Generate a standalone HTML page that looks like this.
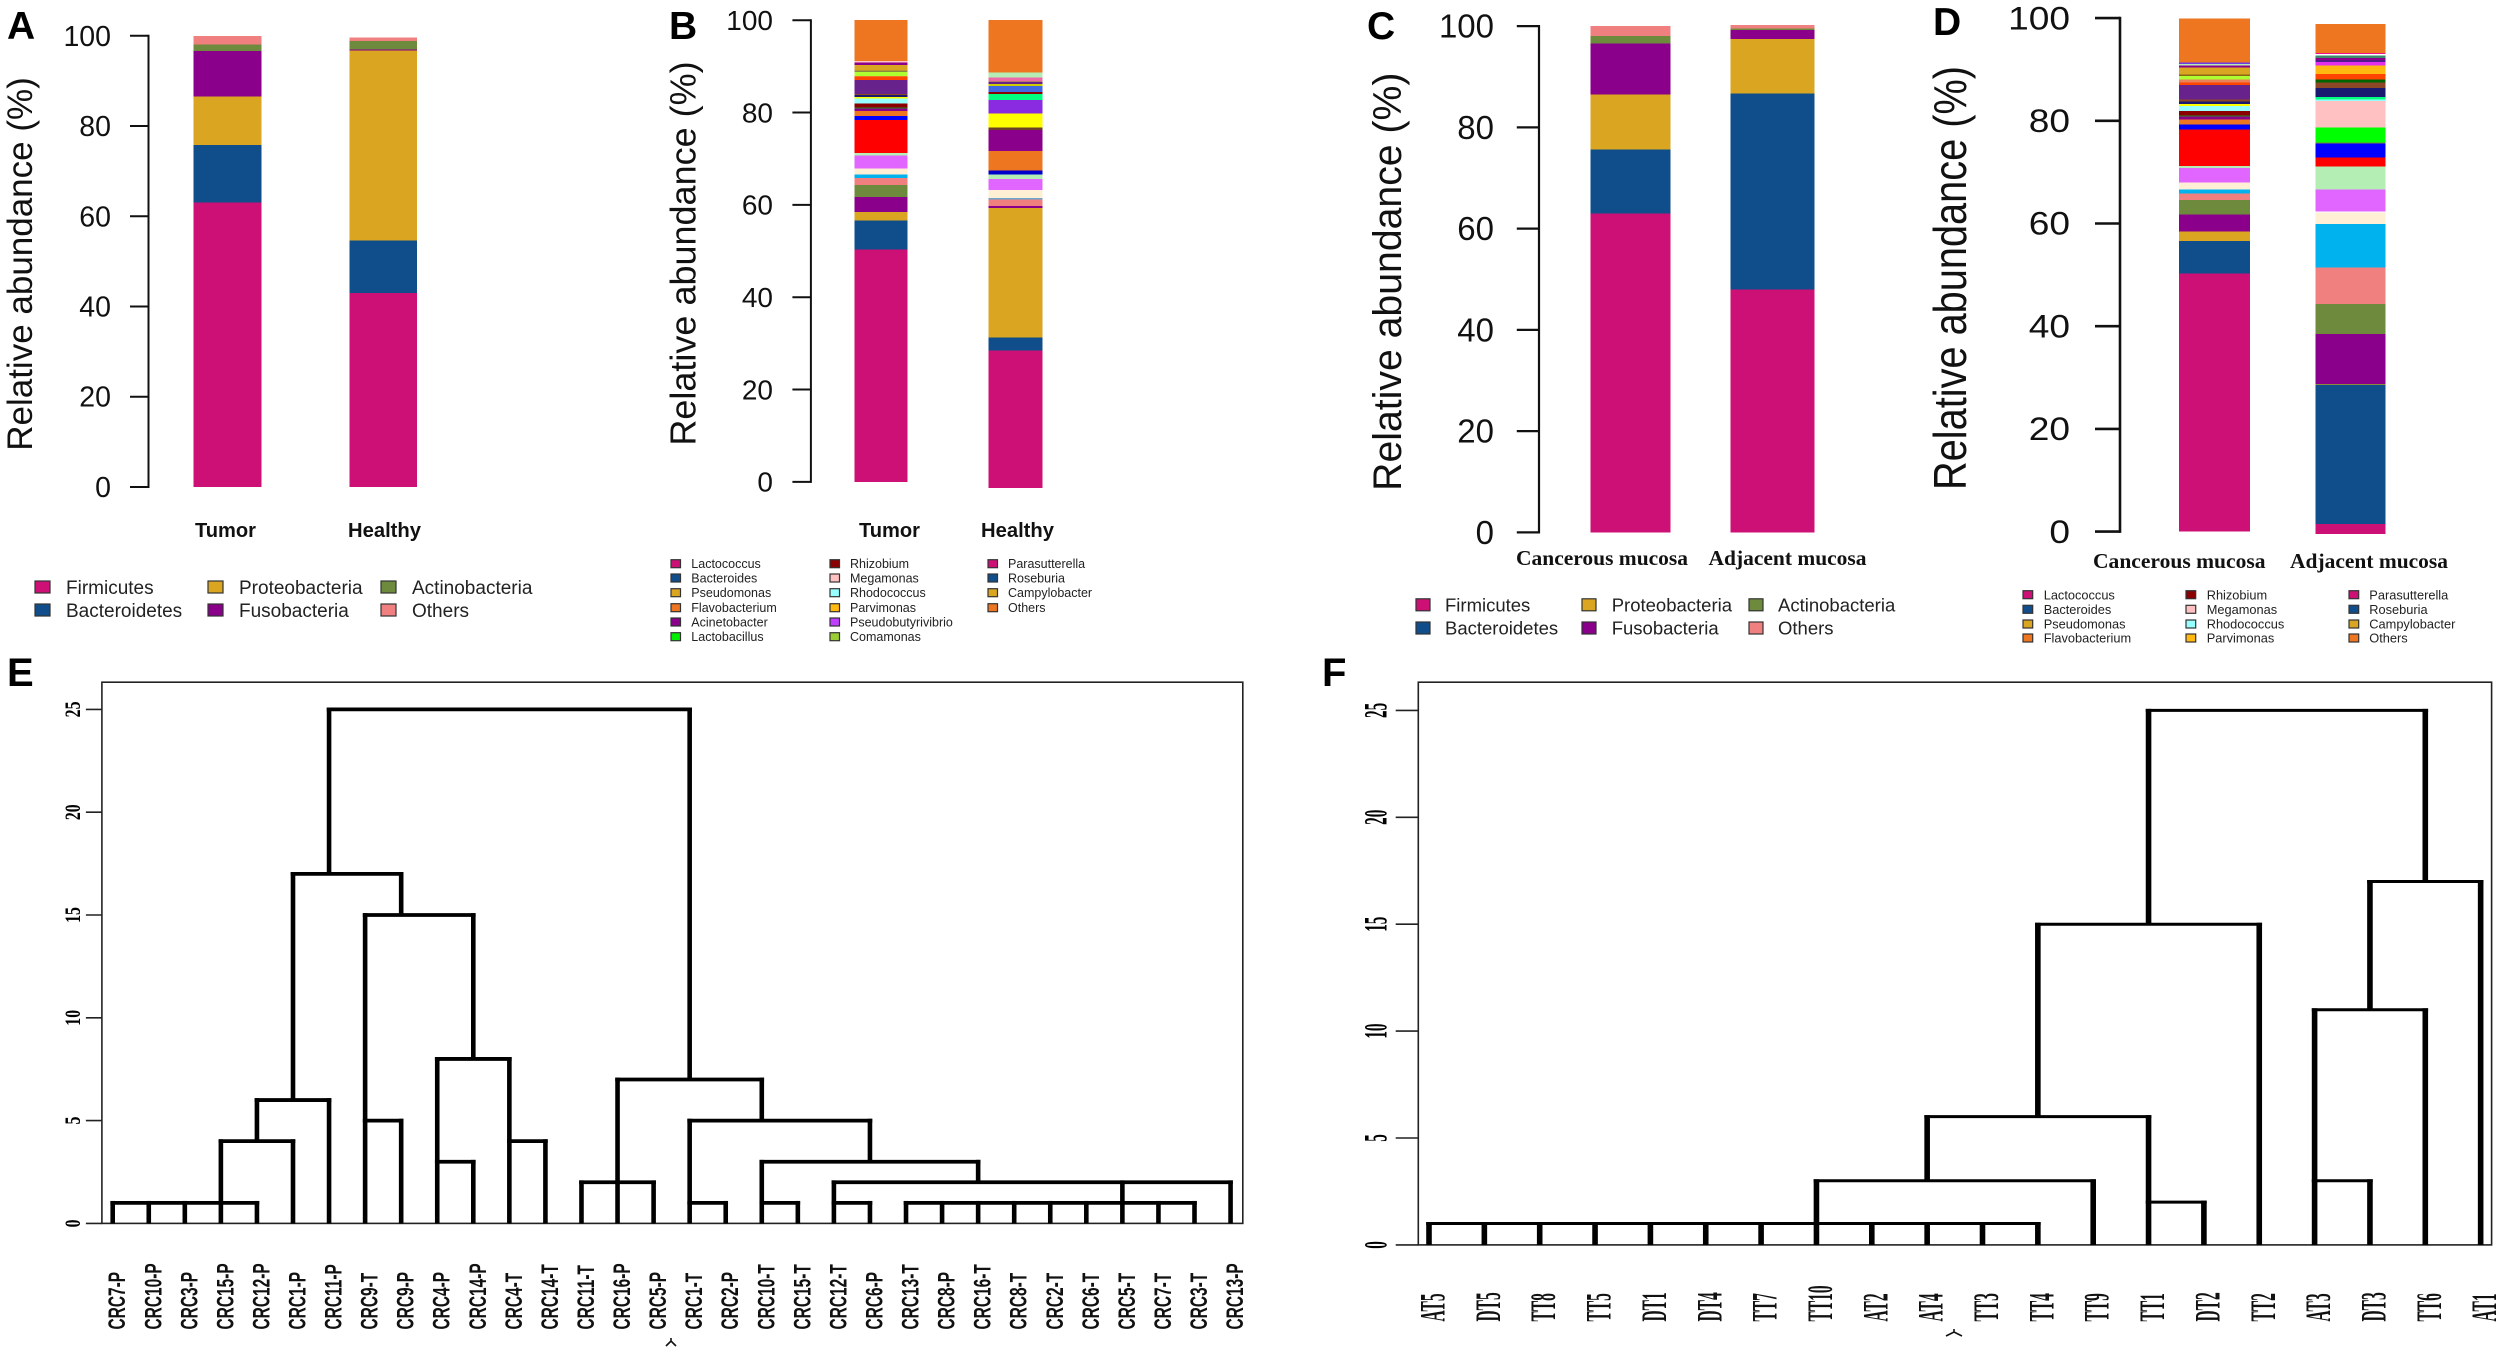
<!DOCTYPE html>
<html lang="en">
<head>
<meta charset="utf-8">
<title>Relative abundance and clustering panels</title>
<style>
html,body{margin:0;padding:0;background:#fff;}
svg{display:block;}
</style>
</head>
<body>
<svg id="figure" xmlns="http://www.w3.org/2000/svg" width="2500" height="1352" viewBox="0 0 2500 1352">
  <rect x="0" y="0" width="2500" height="1352" fill="#ffffff"/>
  <g id="panel-a"></g>
  <g id="panel-b"></g>
  <g id="panel-c"></g>
  <g id="panel-d"></g>
  <g id="panel-e"></g>
  <g id="panel-f"></g>
  <text x="7" y="39" font-family="'Liberation Sans',sans-serif" font-weight="700" font-size="39">A</text>
  <text x="669" y="39" font-family="'Liberation Sans',sans-serif" font-weight="700" font-size="39">B</text>
  <text x="1367" y="39" font-family="'Liberation Sans',sans-serif" font-weight="700" font-size="39">C</text>
  <text x="1933" y="35" font-family="'Liberation Sans',sans-serif" font-weight="700" font-size="39">D</text>
  <text x="7" y="686" font-family="'Liberation Sans',sans-serif" font-weight="700" font-size="40">E</text>
  <text x="1322" y="686" font-family="'Liberation Sans',sans-serif" font-weight="700" font-size="40">F</text>
  <path d="M666 1346 L671 1341 L676 1346 M671 1341 V1338" fill="none" stroke="#111" stroke-width="1.6"/>
  <path d="M1946 1336 L1954 1332 L1962 1336 M1954 1332 V1329" fill="none" stroke="#111" stroke-width="1.6"/>
</svg>
<script>
// ---------- shared tick labels ----------
const abundanceTicks = [0, 20, 40, 60, 80, 100];
const dendroTicks = [0, 5, 10, 15, 20, 25];

// ---------- panel A ----------
const panelACategories = ['Tumor', 'Healthy'];
const panelAFirmicutes = [63.1, 43.0];
const panelABacteroidetes = [12.7, 11.6];
const panelAProteobacteria = [10.8, 42.1];
const panelAFusobacteria = [10.0, 0.3];
const panelAActinobacteria = [1.5, 1.9];
const panelAOthers = [1.9, 0.7];
const panelABase = [0, 0];

// ---------- panel C ----------
const panelCCategories = ['Cancerous mucosa', 'Adjacent mucosa'];
const panelCFirmicutes = [63.0, 48.0];
const panelCBacteroidetes = [12.6, 38.7];
const panelCProteobacteria = [10.9, 10.8];
const panelCFusobacteria = [10.1, 1.7];
const panelCActinobacteria = [1.4, 0.3];
const panelCOthers = [2.0, 0.7];
const panelCBase = [0, 0];

const phylumLegend = ['Firmicutes', 'Bacteroidetes', 'Proteobacteria', 'Fusobacteria', 'Actinobacteria', 'Others'];
const phylumColors = ['#CD1076', '#104E8B', '#DAA520', '#8B008B', '#6E8B3D', '#F08080'];

// ---------- panel B ----------
const panelBCategories = ['Tumor', 'Healthy'];
const panelBBase = [0, -1.35];
const panelBTumor = [50.3, 6.35, 1.8, 3.3, 2.6, 1.5, 0.7, 1.3, 2.8, 0.6, 7.1, 0.95, 1.0, 0.6, 0.2, 0.9, 1.0, 0.4, 0.35, 0.3, 3.0, 0.6, 0.3, 0.8, 0.4, 1.2, 0.45, 0.4, 8.8];
const panelBTumorColors = ['#CD1076', '#104E8B', '#DAA520', '#8B008B', '#6E8B3D', '#F08080', '#00B2EE', '#FFEFD5', '#E066FF', '#B4EEB4', '#FF0000', '#0000FF', '#EE7621', '#8B008B', '#228B22', '#8B0000', '#97FFFF', '#FFFF00', '#191970', '#8B4726', '#68228B', '#FF4500', '#EE7621', '#ADFF2F', '#8B8B3D', '#DAA520', '#8B008B', '#FFC1C1', '#EE7621'];
const panelBHealthy = [29.8, 2.8, 28.05, 0.5, 1.37, 0.3, 1.73, 2.38, 1.0, 0.87, 4.26, 4.55, 0.5, 3.03, 2.89, 1.37, 0.43, 1.23, 0.5, 0.36, 0.2, 0.8, 1.15, 11.3];
const panelBHealthyColors = ['#CD1076', '#104E8B', '#DAA520', '#8B008B', '#F08080', '#6CA6CD', '#FFEFD5', '#E066FF', '#B4EEB4', '#0000CD', '#EE7621', '#8B008B', '#6B4226', '#FFFF00', '#8A2BE2', '#00FF7F', '#8B0000', '#4169E1', '#CDCD00', '#68228B', '#6E8B3D', '#EE6AA7', '#B4EEB4', '#EE7621'];
const panelBLegend = ['Lactococcus', 'Bacteroides', 'Pseudomonas', 'Flavobacterium', 'Acinetobacter', 'Lactobacillus', 'Rhizobium', 'Megamonas', 'Rhodococcus', 'Parvimonas', 'Pseudobutyrivibrio', 'Comamonas', 'Parasutterella', 'Roseburia', 'Campylobacter', 'Others'];
const panelBLegendColors = ['#CD1076', '#104E8B', '#DAA520', '#EE7621', '#8B008B', '#00EE00', '#8B0000', '#FFC1C1', '#97FFFF', '#FFB90F', '#BF3EFF', '#9ACD32', '#CD1076', '#104E8B', '#DAA520', '#EE7621'];

// ---------- panel D ----------
const panelDCategories = ['Cancerous mucosa', 'Adjacent mucosa'];
const panelDBase = [0, -0.47];
const panelDTumor = [50.3, 6.3, 1.88, 3.31, 2.79, 1.23, 0.78, 1.36, 2.86, 0.39, 7.08, 0.97, 0.97, 0.58, 0.19, 0.91, 0.97, 0.39, 0.45, 0.39, 2.86, 0.52, 0.52, 0.71, 0.32, 1.36, 0.39, 0.32, 0.26, 8.57];
const panelDTumorColors = ['#CD1076', '#104E8B', '#DAA520', '#8B008B', '#6E8B3D', '#F08080', '#00B2EE', '#FFEFD5', '#E066FF', '#B4EEB4', '#FF0000', '#0000FF', '#EE7621', '#8B008B', '#228B22', '#8B0000', '#97FFFF', '#FFFF00', '#191970', '#8B4726', '#68228B', '#FF4500', '#E9815B', '#ADFF2F', '#8B6914', '#DAA520', '#8B008B', '#B4EEB4', '#6A3DE8', '#EE7621'];
const panelDAdjacent = [1.95, 27.07, 0.23, 9.66, 5.9, 7.13, 8.44, 2.2, 0.26, 4.28, 4.41, 1.75, 2.73, 0.2, 2.92, 5.19, 0.32, 0.45, 1.75, 1.04, 0.65, 1.1, 1.62, 0.65, 0.39, 0.45, 0.45, 0.26, 0.26, 5.58];
const panelDAdjacentColors = ['#CD1076', '#104E8B', '#8B8B3D', '#8B008B', '#6E8B3D', '#F08080', '#00B2EE', '#FFEFD5', '#FFFFFF', '#E066FF', '#B4EEB4', '#FF0000', '#0000FF', '#6E8B3D', '#00FF00', '#FFC1C1', '#97FFFF', '#00FF7F', '#191970', '#8B4726', '#006400', '#FF4500', '#FFB90F', '#E02FEE', '#551A8B', '#8B008B', '#3D8B6E', '#FFFFFF', '#EE1289', '#EE7621'];
const panelDLegend = ['Lactococcus', 'Bacteroides', 'Pseudomonas', 'Flavobacterium', 'Rhizobium', 'Megamonas', 'Rhodococcus', 'Parvimonas', 'Parasutterella', 'Roseburia', 'Campylobacter', 'Others'];
const panelDLegendColors = ['#CD1076', '#104E8B', '#DAA520', '#EE7621', '#8B0000', '#FFC1C1', '#97FFFF', '#FFB90F', '#CD1076', '#104E8B', '#DAA520', '#EE7621'];

// ---------- panel E dendrogram ----------
const panelELeaves = ['CRC7-P', 'CRC10-P', 'CRC3-P', 'CRC15-P', 'CRC12-P', 'CRC1-P', 'CRC11-P', 'CRC9-T', 'CRC9-P', 'CRC4-P', 'CRC14-P', 'CRC4-T', 'CRC14-T', 'CRC11-T', 'CRC16-P', 'CRC5-P', 'CRC1-T', 'CRC2-P', 'CRC10-T', 'CRC15-T', 'CRC12-T', 'CRC6-P', 'CRC13-T', 'CRC8-P', 'CRC16-T', 'CRC8-T', 'CRC2-T', 'CRC6-T', 'CRC5-T', 'CRC7-T', 'CRC3-T', 'CRC13-P'];
const panelEMergeHeight = [1, 4, 6, 17, 15, 5, 8, 3, 4, 25, 2, 7, 5, 1, 3, 1, 2, 1, 1];
const panelEMergeFrom = [0, 3, 4, 5, 7, 7, 9, 9, 11, 6, 13, 14, 16, 16, 18, 18, 20, 20, 22];
const panelEMergeTo = [4, 5, 6, 8, 10, 8, 11, 10, 12, 16, 15, 18, 21, 17, 24, 19, 31, 21, 30];
const panelEStemLeaf = [0, 1, 2, 3, 4, 4, 5, 5, 6, 6, 7, 8, 8, 9, 10, 10, 11, 12, 13, 14, 15, 16, 16, 17, 18, 18, 19, 20, 21, 21, 22, 23, 24, 24, 25, 26, 27, 28, 29, 30, 31];
const panelEStemLow = [0, 0, 0, 0, 0, 4, 0, 6, 0, 17, 0, 0, 15, 0, 0, 8, 0, 0, 0, 0, 0, 0, 7, 0, 0, 5, 0, 0, 0, 3, 0, 0, 0, 2, 0, 0, 0, 0, 0, 0, 0];
const panelEStemHigh = [1, 1, 1, 4, 1, 6, 4, 17, 6, 25, 15, 5, 17, 8, 3, 15, 8, 4, 2, 7, 2, 5, 25, 1, 3, 7, 1, 2, 1, 5, 1, 1, 1, 3, 1, 1, 1, 2, 1, 1, 2];

// ---------- panel F dendrogram ----------
const panelFLeaves = ['AT5', 'DT5', 'TT8', 'TT5', 'DT1', 'DT4', 'TT7', 'TT10', 'AT2', 'AT4', 'TT3', 'TT4', 'TT9', 'TT1', 'DT2', 'TT2', 'AT3', 'DT3', 'TT6', 'AT1'];
const panelFMergeHeight = [1, 3, 6, 2, 15, 25, 17, 11, 3];
const panelFMergeFrom = [0, 7, 9, 13, 11, 13, 17, 16, 16];
const panelFMergeTo = [11, 12, 13, 14, 15, 18, 19, 18, 17];
const panelFStemLeaf = [0, 1, 2, 3, 4, 5, 6, 7, 8, 9, 9, 10, 11, 11, 12, 13, 13, 14, 15, 16, 17, 17, 18, 18, 19];
const panelFStemLow = [0, 0, 0, 0, 0, 0, 0, 0, 0, 0, 3, 0, 0, 6, 0, 0, 15, 0, 0, 0, 0, 11, 0, 17, 0];
const panelFStemHigh = [1, 1, 1, 1, 1, 1, 1, 3, 1, 1, 6, 1, 1, 15, 3, 6, 25, 2, 15, 11, 3, 17, 11, 25, 17];

const NS = 'http://www.w3.org/2000/svg';
const SANS = "'Liberation Sans',sans-serif";
const SERIF = "'Liberation Serif',serif";

function make(tag, parent, attrs) {
  const el = document.createElementNS(NS, tag);
  for (const k in attrs) el.setAttribute(k, attrs[k]);
  parent.appendChild(el);
  return el;
}

function makeText(parent, str, x, y, o) {
  const t = make('text', parent, {
    transform: 'translate(' + x + ' ' + y + ') rotate(' + (o.rotate || 0) + ') scale(' + (o.sx || 1) + ' ' + (o.sy || 1) + ')',
    'font-family': o.family || SANS,
    'font-size': o.size,
    'font-weight': o.weight || 400,
    'text-anchor': o.anchor || 'start',
    fill: o.fill || '#000'
  });
  if (o.length) {
    t.setAttribute('textLength', o.length);
    t.setAttribute('lengthAdjust', 'spacingAndGlyphs');
  }
  t.textContent = str;
  return t;
}

function drawStackedPanel(group, L, categories, stacks, stackColors, bases, legendLabels, legendColors) {
  const yOf = v => L.y0 - v * (L.y0 - L.y100) / 100;
  const xOf = i => L.barLeft[i];

  // bars
  categories.forEach((cat, i) => {
    let running = bases[i];
    stacks[i].forEach((value, j) => {
      const top = yOf(running + value);
      const bottom = yOf(running);
      const seg = make('rect', group, {
        x: xOf(i), y: top, width: L.barWidth[i], height: bottom - top,
        fill: stackColors[i][j], 'shape-rendering': 'crispEdges'
      });
      
      
      running += value;
    });
    const label = makeText(group, cat, L.catX[i], L.catY, {
      family: L.catFamily, size: L.catSize, weight: 700, anchor: L.catAnchor, length: L.catLength[i], fill: '#111'
    });
    
    
  });

  // axis
  const axis = make('line', group, {
    x1: L.axisX, x2: L.axisX, y1: yOf(0) + L.axisW / 2, y2: yOf(100) - L.axisW / 2,
    stroke: '#111', 'stroke-width': L.axisW
  });
  
  

  abundanceTicks.forEach(t => {
    const tick = make('line', group, {
      x1: L.tickLeft, x2: L.axisX, y1: yOf(t), y2: yOf(t),
      stroke: '#111', 'stroke-width': L.axisW
    });
    
    
    const lab = makeText(group, String(t), L.tickLabelX, yOf(t) + L.tickSize * 0.35, {
      size: L.tickSize, anchor: 'end', sx: L.tickSx || 1, fill: '#111'
    });
    
    
  });

  const yTitle = makeText(group, 'Relative abundance (%)', L.titleX, L.titleY, {
    size: L.titleSize, anchor: 'middle', rotate: -90, sx: L.titleSx || 1, fill: '#111'
  });
  
  

  // legend
  legendLabels.forEach((name, i) => {
    const col = Math.floor(i / L.legendRows.length);
    const rowY = L.legendRows[i % L.legendRows.length];
    const swatch = make('rect', group, {
      x: L.legendSwatchX[col], y: rowY - L.swatchH / 2, width: L.swatchW, height: L.swatchH,
      fill: legendColors[i], stroke: '#333', 'stroke-width': 1.2
    });
    
    
    const txt = makeText(group, name, L.legendTextX[col], rowY + L.legendSize * 0.36, {
      size: L.legendSize, fill: '#222'
    });
    
    
  });
}

function drawDendrogram(group, L, leaves, mergeHeight, mergeFrom, mergeTo, stemLeaf, stemLow, stemHigh) {
  const xOf = i => L.leaf0 + i * L.leafStep;
  const yOf = h => L.y0 - h * L.unit;

  const frame = make('rect', group, {
    x: L.left, y: L.top, width: L.right - L.left, height: L.y0 - L.top,
    fill: 'none', stroke: '#222', 'stroke-width': L.frameW
  });
  
  

  dendroTicks.forEach(t => {
    const tick = make('line', group, {
      x1: L.tickLeft, x2: L.left, y1: yOf(t), y2: yOf(t), stroke: '#222', 'stroke-width': 1.6
    });
    
    
    const lab = makeText(group, String(t), L.tickLabelX, yOf(t), {
      family: SERIF, weight: 700, size: L.tickSize, anchor: 'middle', rotate: -90, sx: L.tickSx
    });
    
    
  });

  mergeHeight.forEach((h, i) => {
    const link = make('line', group, {
      x1: xOf(mergeFrom[i]) - L.stemW / 2, x2: xOf(mergeTo[i]) + L.stemW / 2,
      y1: yOf(h), y2: yOf(h), stroke: '#000', 'stroke-width': L.linkW
    });
    
    
  });

  stemLeaf.forEach((leaf, i) => {
    const stem = make('line', group, {
      x1: xOf(leaf), x2: xOf(leaf), y1: yOf(stemLow[i]), y2: yOf(stemHigh[i]) - L.linkW / 2,
      stroke: '#000', 'stroke-width': L.stemW
    });
    
    
  });

  leaves.forEach((name, i) => {
    const lab = makeText(group, name, xOf(i) + L.leafLabelDx, L.leafLabelY, {
      family: L.leafFamily, weight: 700, size: L.leafSize, rotate: -90, sx: L.leafSx, fill: '#111'
    });
    
    
  });
}

function byCategory(seriesList, n) {
  const out = [];
  for (let i = 0; i < n; i++) out.push(seriesList.map(s => s[i]));
  return out;
}

const phylumSeriesA = [panelAFirmicutes, panelABacteroidetes, panelAProteobacteria, panelAFusobacteria, panelAActinobacteria, panelAOthers];
const phylumSeriesC = [panelCFirmicutes, panelCBacteroidetes, panelCProteobacteria, panelCFusobacteria, panelCActinobacteria, panelCOthers];

drawStackedPanel(document.getElementById('panel-a'), {
  y0: 487, y100: 35.8, axisX: 148.5, tickLeft: 130, axisW: 2,
  barLeft: [193.6, 349.5], barWidth: [68, 67.5],
  catX: [195, 348], catY: 537, catSize: 20, catFamily: SANS, catAnchor: 'start', catLength: [61, 73],
  tickLabelX: 111, tickSize: 28.5,
  titleX: 32, titleY: 264, titleSize: 35,
  legendRows: [587, 610], legendSwatchX: [35, 208, 381], legendTextX: [66, 239, 412],
  swatchW: 15, swatchH: 12, legendSize: 19
}, panelACategories, byCategory(phylumSeriesA, 2), [phylumColors, phylumColors], panelABase, phylumLegend, phylumColors);

drawStackedPanel(document.getElementById('panel-b'), {
  y0: 481.9, y100: 20.2, axisX: 810.9, tickLeft: 792.4, axisW: 2,
  barLeft: [854.6, 988.5], barWidth: [53.1, 53.9],
  catX: [859, 981], catY: 537, catSize: 20, catFamily: SANS, catAnchor: 'start', catLength: [61, 73],
  tickLabelX: 773, tickSize: 28,
  titleX: 695.6, titleY: 253.5, titleSize: 36,
  legendRows: [563.7, 578, 592.7, 607.7, 622, 636.7], legendSwatchX: [671, 830, 988], legendTextX: [691.3, 850, 1008],
  swatchW: 9.5, swatchH: 8, legendSize: 12.5
}, panelBCategories, [panelBTumor, panelBHealthy], [panelBTumorColors, panelBHealthyColors], panelBBase, panelBLegend, panelBLegendColors);

drawStackedPanel(document.getElementById('panel-c'), {
  y0: 532.4, y100: 26.1, axisX: 1539, tickLeft: 1516.8, axisW: 2.2,
  barLeft: [1590.7, 1730.4], barWidth: [80, 84.2],
  catX: [1516, 1708.5], catY: 565, catSize: 21.5, catFamily: SERIF, catAnchor: 'start', catLength: [172, 158],
  tickLabelX: 1494, tickSize: 33,
  titleX: 1401, titleY: 281.7, titleSize: 40, titleSx: 0.98,
  legendRows: [604.8, 628], legendSwatchX: [1416, 1582, 1749], legendTextX: [1445, 1611.7, 1778],
  swatchW: 14, swatchH: 12, legendSize: 18.5
}, panelCCategories, byCategory(phylumSeriesC, 2), [phylumColors, phylumColors], panelCBase, phylumLegend, phylumColors);

drawStackedPanel(document.getElementById('panel-d'), {
  y0: 531.6, y100: 18.1, axisX: 2120, tickLeft: 2095, axisW: 2.6,
  barLeft: [2179, 2315.5], barWidth: [70.8, 70.2],
  catX: [2093, 2290], catY: 568, catSize: 21.5, catFamily: SERIF, catAnchor: 'start', catLength: [172.5, 158],
  tickLabelX: 2070, tickSize: 32, tickSx: 1.16,
  titleX: 1965.8, titleY: 278, titleSize: 46, titleSx: 0.864,
  legendRows: [594.7, 609.3, 624, 638], legendSwatchX: [2023, 2186, 2349], legendTextX: [2043.7, 2206.7, 2369.3],
  swatchW: 9.7, swatchH: 8, legendSize: 12.8
}, panelDCategories, [panelDTumor, panelDAdjacent], [panelDTumorColors, panelDAdjacentColors], panelDBase, panelDLegend, panelDLegendColors);

drawDendrogram(document.getElementById('panel-e'), {
  left: 101.9, right: 1242.8, top: 682.2, y0: 1223.4, unit: 20.56,
  leaf0: 112.7, leafStep: 36.06, stemW: 4.6, linkW: 3.8, frameW: 1.6,
  tickLeft: 85.9, tickLabelX: 80, tickSize: 22, tickSx: 0.72,
  leafFamily: SANS, leafSize: 24, leafSx: 0.645, leafLabelDx: 12.5, leafLabelY: 1329.5
}, panelELeaves, panelEMergeHeight, panelEMergeFrom, panelEMergeTo, panelEStemLeaf, panelEStemLow, panelEStemHigh);

drawDendrogram(document.getElementById('panel-f'), {
  left: 1418.3, right: 2491.6, top: 682.2, y0: 1244.9, unit: 21.38,
  leaf0: 1429, leafStep: 55.35, stemW: 5.6, linkW: 3, frameW: 1.6,
  tickLeft: 1395.7, tickLabelX: 1386.5, tickSize: 33, tickSx: 0.46,
  leafFamily: SERIF, leafSize: 36, leafSx: 0.43, leafLabelDx: 15.5, leafLabelY: 1321.5
}, panelFLeaves, panelFMergeHeight, panelFMergeFrom, panelFMergeTo, panelFStemLeaf, panelFStemLow, panelFStemHigh);
</script>
</body>
</html>
